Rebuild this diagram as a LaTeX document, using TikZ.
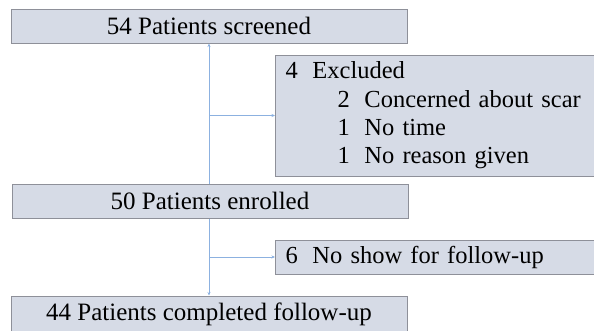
\documentclass[tikz,border=0pt]{standalone}
\usepackage{fontspec}
\setmainfont{Liberation Serif}
\usepackage{tikz}
\usetikzlibrary{arrows.meta}
\definecolor{boxfill}{HTML}{D6DBE6}
\definecolor{boxline}{HTML}{8E9099}
\definecolor{flowline}{HTML}{8CB1E0}
\tikzstyle{stage} = [rectangle, draw=boxline, line width=1pt, fill=boxfill, inner sep=0pt, font=\fontsize{25}{28}\selectfont, text centered]
\tikzstyle{side} = [rectangle, draw=boxline, line width=1pt, fill=boxfill, inner xsep=10pt, inner ysep=0pt, font=\fontsize{24.5}{28.3}\selectfont, align=left, anchor=west]
\tikzstyle{arrow} = [line width=0.8pt, draw=flowline, -{Stealth[length=3.5pt,width=3pt]}]

\begin{document}
\begin{tikzpicture}[x=1pt, y=-1pt]
\useasboundingbox (0,0) rectangle (594,330);
  \node (screened) [stage, minimum width=396pt, minimum height=34pt] at (209,26) {54 Patients screened};
  \node (excluded) [side, minimum width=330pt, minimum height=121pt, text width=310pt] at (275,115.5) {4\hspace{0.6em}Excluded\\
\hspace*{52pt}2\hspace{0.6em}Concerned about scar\\
\hspace*{52pt}1\hspace{0.6em}No time\\
\hspace*{52pt}1\hspace{0.6em}No reason given};
  \node (enrolled) [stage, minimum width=396pt, minimum height=34pt] at (210,201) {50 Patients enrolled};
  \node (noshow) [side, minimum width=330pt, minimum height=34pt, text width=310pt] at (275,257) {6\hspace{0.6em}No show for follow-up};
  \node (completed) [stage, minimum width=396pt, minimum height=36pt] at (209,314) {44 Patients completed follow-up};
  \draw[arrow] (enrolled.north -| screened.south) -- (screened.south);
  \draw[arrow] (screened.south |- excluded.west) -- (excluded.west);
  \draw[arrow] (enrolled.south -| completed.north) -- (completed.north);
  \draw[arrow] (completed.north |- noshow.west) -- (noshow.west);
\end{tikzpicture}
\end{document}
